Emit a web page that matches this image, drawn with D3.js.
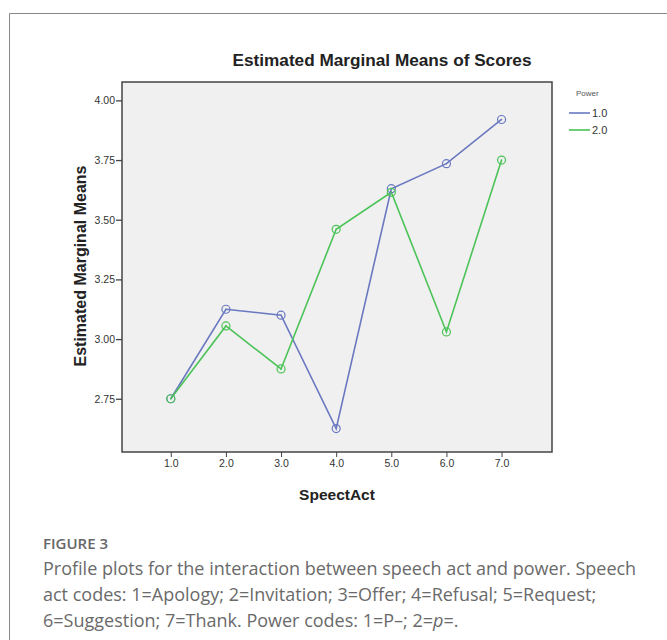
<!DOCTYPE html>
<html><head><meta charset="utf-8">
<script src="https://cdn.jsdelivr.net/npm/d3@7"></script>
<style>
body{margin:0;background:#fff;}
svg{display:block;}
</style></head>
<body>
<svg id="c" width="667" height="640"></svg>
<script>
const speechActs = [1, 2, 3, 4, 5, 6, 7];
const power1 = [2.75, 3.125, 3.10, 2.625, 3.63, 3.735, 3.92];
const power2 = [2.75, 3.055, 2.875, 3.46, 3.615, 3.03, 3.75];
const seriesNames = ["1.0", "2.0"];
const seriesColors = ["#6a78c0", "#4cc358"];
const yTicks = [2.75, 3.00, 3.25, 3.50, 3.75, 4.00];
const captionLines = [
  "Profile plots for the interaction between speech act and power. Speech",
  "act codes: 1=Apology; 2=Invitation; 3=Offer; 4=Refusal; 5=Request;",
  "6=Suggestion; 7=Thank. Power codes: 1=P\u2013; 2=<i>p</i>=."
];

const svg = d3.select("#c");
// outer frame
svg.append("path").attr("d","M9.5,640 L9.5,13.5 L667,13.5").attr("fill","none").attr("stroke","#888").attr("stroke-width",1);

const L=122, R=552, T=82, B=452;
const x = d3.scaleLinear().domain([0.115, 7.915]).range([L, R]);
const y = d3.scaleLinear().domain([2.527, 4.077]).range([B, T]);

svg.append("rect").attr("x",L).attr("y",T).attr("width",R-L).attr("height",B-T)
  .attr("fill","#f0f0f0").attr("stroke","#444").attr("stroke-width",1.5);

const ya = svg.append("g").attr("transform",`translate(${L},0)`)
  .call(d3.axisLeft(y).tickValues(yTicks).tickFormat(d3.format(".2f")).tickSize(6).tickPadding(1));
ya.select(".domain").remove();
ya.selectAll("line").attr("stroke","#444").attr("stroke-width",1.3);
ya.selectAll("text").attr("font-family","Liberation Sans, Arial, sans-serif").attr("font-size",10.5).attr("fill","#333");

const xa = svg.append("g").attr("transform",`translate(0,${B})`)
  .call(d3.axisBottom(x).tickValues(speechActs).tickFormat(d3.format(".1f")).tickSize(5).tickPadding(3));
xa.select(".domain").remove();
xa.selectAll("line").attr("stroke","#444").attr("stroke-width",1);
xa.selectAll("text").attr("font-family","Liberation Sans, Arial, sans-serif").attr("font-size",10.5).attr("fill","#333");

const font = "Liberation Sans, Arial, sans-serif";
svg.append("text").attr("x",382).attr("y",66).attr("text-anchor","middle")
  .attr("font-family",font).attr("font-weight","bold").attr("font-size",17.2).attr("fill","#222")
  .text("Estimated Marginal Means of Scores");
svg.append("text").attr("transform","translate(86,266) rotate(-90)").attr("text-anchor","middle")
  .attr("font-family",font).attr("font-weight","bold").attr("font-size",16).attr("fill","#222")
  .text("Estimated Marginal Means");
svg.append("text").attr("x",337).attr("y",500).attr("text-anchor","middle")
  .attr("font-family",font).attr("font-weight","bold").attr("font-size",15.5).attr("fill","#222")
  .text("SpeectAct");

const series = [power1, power2];
const line = d3.line().x((d,i)=>x(speechActs[i])).y(d=>y(d));
series.forEach((s,k)=>{
  svg.append("path").datum(s).attr("d",line).attr("fill","none")
    .attr("stroke",seriesColors[k]).attr("stroke-width",1.6);
});
series.forEach((s,k)=>{
  const g = svg.append("g");
  g.selectAll("circle.o").data(s).join("circle").attr("cx",(d,i)=>x(speechActs[i])).attr("cy",d=>y(d))
    .attr("r",4).attr("fill","none").attr("stroke",seriesColors[k]).attr("stroke-width",1.2);
  g.selectAll("circle.i").data(s).join("circle").attr("cx",(d,i)=>x(speechActs[i])).attr("cy",d=>y(d))
    .attr("r",0.8).attr("fill",seriesColors[k]);
});

// legend
svg.append("text").attr("x",576).attr("y",96).attr("font-family",font).attr("font-size",8).attr("fill","#555").text("Power");
seriesNames.forEach((n,k)=>{
  const yy = 113 + k*17;
  svg.append("line").attr("x1",569).attr("x2",590).attr("y1",yy).attr("y2",yy)
    .attr("stroke",seriesColors[k]).attr("stroke-width",1.6);
  svg.append("text").attr("x",592).attr("y",yy+4).attr("font-family",font).attr("font-size",11).attr("fill","#333").text(n);
});

// caption
svg.append("text").attr("x",43).attr("y",549).attr("font-family","Open Sans, sans-serif").attr("font-size",15)
  .attr("font-weight",600).attr("fill","#666").text("FIGURE 3");
captionLines.forEach((t,i)=>{
  const tx = svg.append("text").attr("x",43).attr("y",575+i*26).attr("font-family","Open Sans, sans-serif")
    .attr("font-size",18).attr("fill","#6a6a6a");
  if (t.includes("<i>")) {
    const parts = t.split(/<i>|<\/i>/);
    parts.forEach((p,j)=>{ tx.append("tspan").attr("font-style", j%2? "italic":"normal").text(p); });
  } else tx.text(t);
});
</script>
</body></html>
